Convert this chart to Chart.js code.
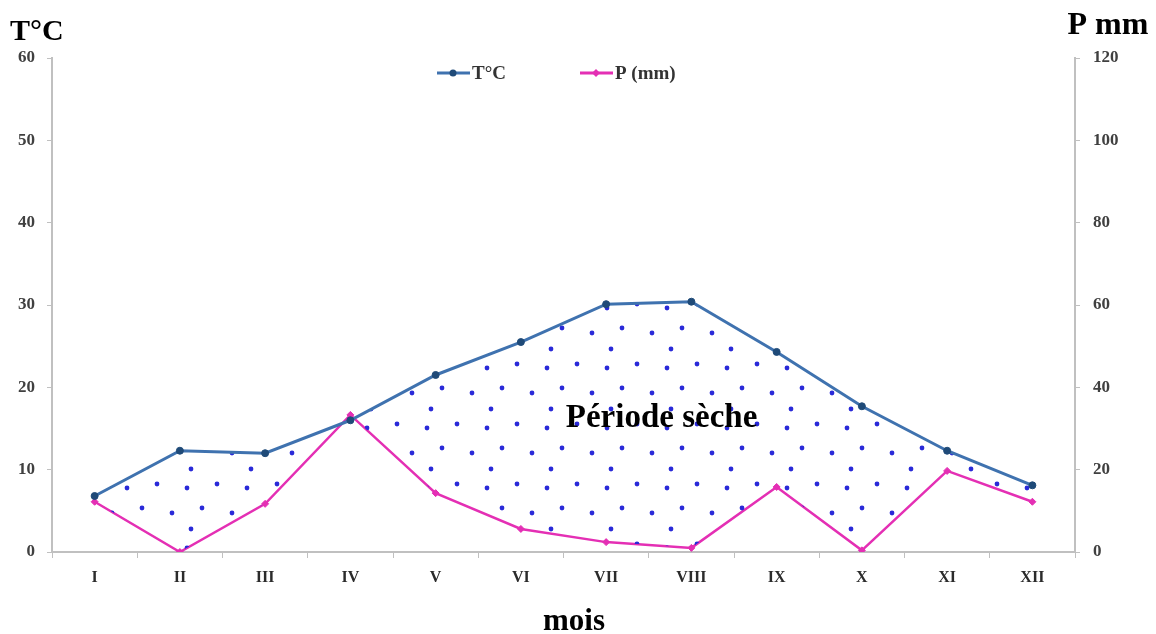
<!DOCTYPE html>
<html>
<head>
<meta charset="utf-8">
<script src="https://cdn.jsdelivr.net/npm/chart.js@4"></script>
<style>
  html, body { margin: 0; padding: 0; background: #fff; }
  #wrap { width: 1156px; height: 634px; position: relative; }
</style>
</head>
<body>
<div id="wrap"><canvas id="chart"></canvas></div>
<script>
// month labels (roman numerals)
var months = ["I", "II", "III", "IV", "V", "VI", "VII", "VIII", "IX", "X", "XI", "XII"];
// mean temperature, °C (left axis)
var temps = [6.8, 12.3, 12.0, 16.0, 21.5, 25.5, 30.1, 30.4, 24.3, 17.7, 12.3, 8.1];
// precipitation, mm (right axis, 2x scale)
var precip = [12.2, 0, 11.7, 33.3, 14.3, 5.6, 2.4, 1.0, 15.8, 0.4, 19.7, 12.2];

var tempLabel = "T°C";
var precipLabel = "P (mm)";
var dryLabel = "Période sèche";
var xTitle = "mois";

var SERIF = "'Liberation Serif', 'Times New Roman', serif";
var BLUE = "#3f72af";
var BLUE_DOT = "#1f4a78";
var PINK = "#e42fb4";
var AXIS = "#c0c0c0";

// dotted pattern for the dry period
function dotPattern() {
  var c = document.createElement("canvas");
  c.width = 60;
  c.height = 60;
  var g = c.getContext("2d");
  g.fillStyle = "#2a2ad8";
  var pts = [[7, 8], [37, 4], [22, 28], [52, 33], [11, 49]];
  pts.forEach(function(p) {
    g.beginPath();
    g.arc(p[0], p[1], 2.4, 0, Math.PI * 2);
    g.fill();
  });
  return g.createPattern(c, "repeat");
}

// titles, annotation and legend drawn on top
var extras = {
  id: "extras",
  afterDraw: function(chart) {
    var ctx = chart.ctx;
    var x = chart.scales.x, y = chart.scales.y;
    ctx.save();
    ctx.fillStyle = "#000";
    ctx.textBaseline = "alphabetic";
    ctx.font = "bold 30px " + SERIF;
    ctx.textAlign = "left";
    ctx.fillText("T°C", 10, 40);
    ctx.font = "bold 32px " + SERIF;
    ctx.textAlign = "center";
    ctx.fillText("P mm", 1108, 34);
    ctx.font = "bold 31px " + SERIF;
    ctx.fillText(xTitle, 574, 630);

    ctx.font = "bold 33px " + SERIF;
    ctx.textBaseline = "middle";
    ctx.fillText(dryLabel, x.getPixelForValue(6.65), y.getPixelForValue(16.2));

    // legend
    var ly = 73;
    ctx.font = "bold 19px " + SERIF;
    ctx.textAlign = "left";
    var items = [
      { label: tempLabel, color: BLUE, dot: BLUE_DOT, x0: 437, style: "circle" },
      { label: precipLabel, color: PINK, dot: PINK, x0: 580, style: "diamond" }
    ];
    items.forEach(function(it) {
      ctx.strokeStyle = it.color;
      ctx.lineWidth = 3;
      ctx.beginPath();
      ctx.moveTo(it.x0, ly);
      ctx.lineTo(it.x0 + 33, ly);
      ctx.stroke();
      ctx.fillStyle = it.dot;
      ctx.beginPath();
      var cx = it.x0 + 16;
      if (it.style == "circle") {
        ctx.arc(cx, ly, 3.5, 0, Math.PI * 2);
      } else {
        ctx.moveTo(cx, ly - 4);
        ctx.lineTo(cx + 4, ly);
        ctx.lineTo(cx, ly + 4);
        ctx.lineTo(cx - 4, ly);
        ctx.closePath();
      }
      ctx.fill();
      ctx.fillStyle = "#333";
      ctx.fillText(it.label, it.x0 + 35, ly + 1);
    });
    ctx.restore();
  }
};

var tickFont = { family: SERIF, size: 17, weight: "bold" };

new Chart(document.getElementById("chart"), {
  type: "line",
  data: {
    labels: months,
    datasets: [
      {
        label: tempLabel,
        data: temps,
        yAxisID: "y",
        borderColor: BLUE,
        borderWidth: 3,
        pointStyle: "circle",
        pointRadius: 3.5,
        pointBorderWidth: 1,
        pointBackgroundColor: BLUE_DOT,
        pointBorderColor: BLUE_DOT,
        tension: 0,
        fill: { target: 1, above: dotPattern(), below: "rgba(0,0,0,0)" }
      },
      {
        label: precipLabel,
        data: precip,
        yAxisID: "y1",
        borderColor: PINK,
        borderWidth: 2.5,
        pointStyle: "rectRot",
        pointRadius: 3.5,
        pointBorderWidth: 1,
        pointBackgroundColor: PINK,
        pointBorderColor: PINK,
        tension: 0,
        fill: false
      }
    ]
  },
  options: {
    responsive: true,
    maintainAspectRatio: false,
    animation: false,
    layout: { padding: { top: 58, left: 0, right: 0, bottom: 0 } },
    plugins: {
      legend: { display: false },
      tooltip: { enabled: false }
    },
    scales: {
      x: {
        offset: true,
        grid: { offset: true, drawOnChartArea: false, tickLength: 6, color: AXIS },
        border: { color: AXIS, width: 2 },
        ticks: { font: { family: SERIF, size: 16, weight: "bold" }, color: "#2b2b2b", padding: 10, maxRotation: 0 },
        afterFit: function(s) { s.height = 82; }
      },
      y: {
        position: "left",
        min: 0,
        max: 60,
        ticks: { stepSize: 10, font: tickFont, color: "#404040", padding: 12 },
        grid: { drawOnChartArea: false, tickLength: 5, color: AXIS },
        border: { color: AXIS, width: 2 },
        afterFit: function(s) { s.width = 52; }
      },
      y1: {
        position: "right",
        min: 0,
        max: 120,
        ticks: { stepSize: 20, font: tickFont, color: "#404040", padding: 13 },
        grid: { drawOnChartArea: false, tickLength: 5, color: AXIS },
        border: { color: AXIS, width: 2 },
        afterFit: function(s) { s.width = 81; }
      }
    }
  },
  plugins: [extras]
});
</script>
</body>
</html>
